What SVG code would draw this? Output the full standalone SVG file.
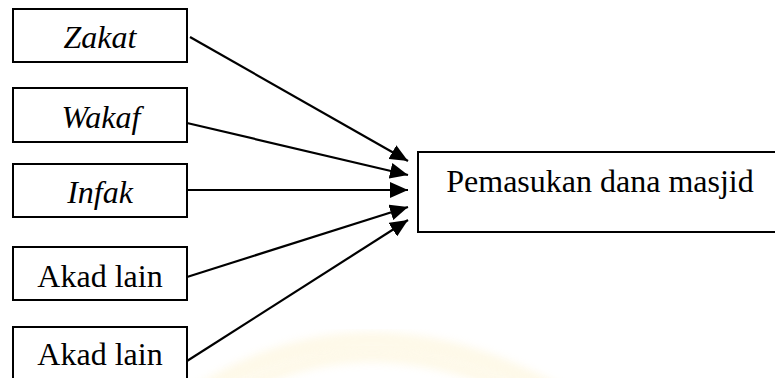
<svg xmlns="http://www.w3.org/2000/svg" width="775" height="378" viewBox="0 0 775 378">
  <defs>
    <style>
      .box { fill: #ffffff; stroke: #000000; stroke-width: 2; }
      .label { font-family: "Liberation Serif", "Times New Roman", serif; font-size: 32px; fill: #000000; text-anchor: middle; }
      .it { font-style: italic; }
      .edge { stroke: #000000; stroke-width: 2.2; fill: none; marker-end: url(#arrow); }
      .mark { fill: none; stroke: #fbe7a6; opacity: 0.25; filter: url(#soft); }
    </style>
    <marker id="arrow" markerUnits="userSpaceOnUse" markerWidth="18" markerHeight="16" viewBox="0 0 18 16" refX="18" refY="8" orient="auto">
      <path d="M0,0 L18,8 L0,16 Z" fill="#000000"/>
    </marker>
    <filter id="soft" x="-20%" y="-20%" width="140%" height="140%">
      <feGaussianBlur stdDeviation="4"/>
    </filter>
  </defs>

  <rect width="775" height="378" fill="#ffffff"/>

  <!-- faint seal in the background -->
  <g id="seal">
    <path class="mark" d="M190,400 Q360,285 560,395" stroke-width="18"/>
    <path class="mark" d="M215,405 Q360,310 535,400" stroke-width="12"/>
  </g>

  <g id="zakat">
    <rect class="box" x="13" y="9" width="174" height="53"/>
    <text class="label it" x="100" y="48">Zakat</text>
  </g>
  <g id="wakaf">
    <rect class="box" x="13" y="88" width="174" height="54"/>
    <text class="label it" x="101" y="128">Wakaf</text>
  </g>
  <g id="infak">
    <rect class="box" x="13" y="164" width="174" height="53"/>
    <text class="label it" x="100" y="203">Infak</text>
  </g>
  <g id="akad-lain-1">
    <rect class="box" x="13" y="247" width="174" height="53"/>
    <text class="label" x="100" y="287">Akad lain</text>
  </g>
  <g id="akad-lain-2">
    <rect class="box" x="13" y="327" width="174" height="60"/>
    <text class="label" x="100" y="365">Akad lain</text>
  </g>
  <g id="pemasukan">
    <rect class="box" x="418" y="152" width="362" height="80"/>
    <text class="label" x="600" y="192">Pemasukan dana masjid</text>
  </g>

  <g id="connectors">
    <line class="edge" x1="190" y1="37" x2="408" y2="161"/>
    <line class="edge" x1="187" y1="123" x2="408" y2="175"/>
    <line class="edge" x1="187" y1="190" x2="408" y2="190"/>
    <line class="edge" x1="187" y1="277" x2="408" y2="207"/>
    <line class="edge" x1="187" y1="361" x2="408" y2="220"/>
  </g>
</svg>
